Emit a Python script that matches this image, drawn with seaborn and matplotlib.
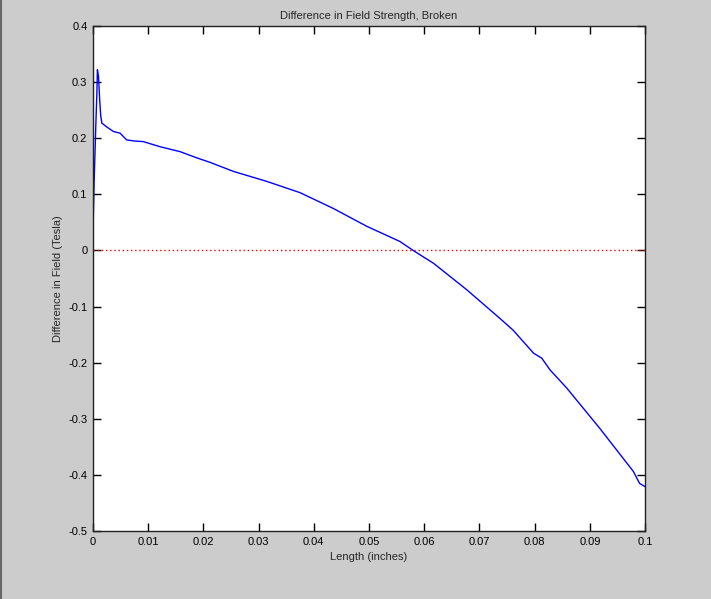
import matplotlib
matplotlib.use("Agg")
import matplotlib.pyplot as plt
from matplotlib.lines import Line2D
import numpy as np
import pandas as pd
import seaborn as sns

# values
length_in = [0, 0.0002, 0.0005, 0.0007, 0.0008, 0.0010, 0.0012, 0.0014, 0.0016,
             0.0025, 0.0037, 0.0049, 0.0061, 0.0075, 0.0091, 0.0121, 0.0158,
             0.0188, 0.0212, 0.0254, 0.0315, 0.0375, 0.0435, 0.0496, 0.0556,
             0.0580, 0.0617, 0.0677, 0.0737, 0.0761, 0.0798, 0.0813, 0.0828,
             0.0858, 0.0918, 0.0979, 0.0990, 0.1000]
field_diff = [0.03, 0.12, 0.22, 0.28, 0.322, 0.31, 0.27, 0.24, 0.227,
              0.220, 0.212, 0.209, 0.197, 0.195, 0.194, 0.185, 0.176,
              0.165, 0.157, 0.141, 0.123, 0.103, 0.075, 0.043, 0.016,
              0.0, -0.023, -0.070, -0.121, -0.142, -0.183, -0.192, -0.213,
              -0.245, -0.317, -0.394, -0.415, -0.421]
x_ticks = [0, 0.01, 0.02, 0.03, 0.04, 0.05, 0.06, 0.07, 0.08, 0.09, 0.1]
x_labels = ["0", "0.01", "0.02", "0.03", "0.04", "0.05", "0.06", "0.07", "0.08", "0.09", "0.1"]
y_ticks = [-0.5, -0.4, -0.3, -0.2, -0.1, 0, 0.1, 0.2, 0.3, 0.4]
y_labels = ["-0.5", "-0.4", "-0.3", "-0.2", "-0.1", "0", "0.1", "0.2", "0.3", "0.4"]

df = pd.DataFrame({"length": length_in, "diff": field_diff})

sns.set_style("white")
plt.rcParams['font.family'] = ['Liberation Sans', 'DejaVu Sans']
plt.rcParams['font.size'] = 8

fig = plt.figure(figsize=(7.11, 5.99), dpi=100, facecolor="#cccccc")
ax = fig.add_axes([0.1308, 0.1135, 0.9072 - 0.1308, 0.9566 - 0.1135])
ax.set_facecolor("white")

# zero reference line
ax.plot([0, 0.1], [0, 0], color="red", linestyle=(0, (1, 2)), linewidth=1)

sns.lineplot(data=df, x="length", y="diff", sort=False, estimator=None,
             color="#0000ff", linewidth=1, ax=ax)

ax.set_xlim(0, 0.1)
ax.set_ylim(-0.5, 0.4)
ax.set_xticks(x_ticks)
ax.set_xticklabels(x_labels)
ax.set_yticks(y_ticks)
ax.set_yticklabels(y_labels)

ax.tick_params(direction="in", length=6, width=1, color="black",
               top=True, right=True, bottom=True, left=True,
               labelsize=8, labelcolor="black", pad=4)
for s in ax.spines.values():
    s.set_visible(True)
    s.set_color("#222222")
    s.set_linewidth(1)

ax.set_title("Difference in Field Strength, Broken", fontsize=8, pad=5)
ax.set_xlabel("Length (inches)", fontsize=8, labelpad=4)
ax.set_ylabel("Difference in Field (Tesla)", fontsize=8, labelpad=4)

# dark window edge on the left
fig.add_artist(Line2D([0.0015, 0.0015], [0, 1], color="#666666", linewidth=1.5,
                      transform=fig.transFigure))

fig.savefig("out.png", dpi=100, facecolor=fig.get_facecolor())
